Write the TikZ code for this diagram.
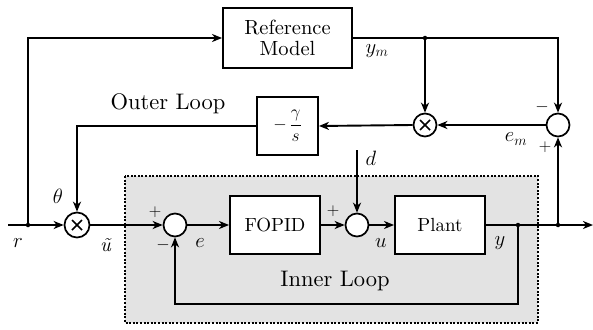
\documentclass[tikz,border=0pt]{standalone}
\usepackage{amsmath}
\usepackage{fontspec}
\setmainfont{lmroman10-regular}[Extension=.otf,ItalicFont=lmroman10-italic,BoldFont=lmroman10-bold]
\usetikzlibrary{arrows.meta}
\newcommand{\blkfont}{\fontsize{19}{21}\selectfont}
\newcommand{\reffont}{\fontsize{20.5}{22}\selectfont}
\begin{document}
\begin{tikzpicture}[x=1pt,y=-1pt,
  line width=1.9pt,
  >={Stealth[length=10pt,width=8pt,inset=3pt]},
  blk/.style={draw,rectangle,inner sep=0pt,align=center,font=\blkfont},
  sumc/.style={draw,circle,minimum size=23pt,inner sep=0pt,fill=white,line width=1.7pt},
  multc/.style={sumc,path picture={
    \draw[line width=1.7pt] ([shift={(-5pt,-5pt)}]path picture bounding box.center) -- ([shift={(5pt,5pt)}]path picture bounding box.center);
    \draw[line width=1.7pt] ([shift={(-5pt,5pt)}]path picture bounding box.center) -- ([shift={(5pt,-5pt)}]path picture bounding box.center);}},
  jdot/.style={circle,fill,inner sep=0pt,minimum size=4.5pt},
  lbl/.style={font=\fontsize{20}{23}\selectfont},
  sgn/.style={font=\fontsize{18}{21}\selectfont,inner sep=0pt},
  loopl/.style={font=\fontsize{22.5}{26}\selectfont}]
\useasboundingbox (0,0) rectangle (593,329);
% inner loop background
\draw[fill=black!11,line width=1.8pt,dash pattern=on 2pt off 1.6pt] (125,176) rectangle (538,323);
% blocks
\node[blk,minimum width=129pt,minimum height=60pt,font=\reffont] (refm) at (287.5,38) {\reffont Reference\\[-1pt]\reffont Model};
\node[blk,minimum width=61pt,minimum height=58pt] (gam) at (287.5,126) {$-\,\dfrac{\gamma}{s}$};
\node[blk,minimum width=90pt,minimum height=58pt,fill=white] (fopid) at (275,225) {FOPID};
\node[blk,minimum width=90pt,minimum height=58pt,fill=white] (plant) at (440,225) {Plant};
\node[multc] (m1) at (425,125) {};
\node[sumc] (sem) at (558,125) {};
\node[multc,minimum size=25pt] (m2) at (77,225) {};
\node[sumc] (s1) at (175,225) {};
\node[sumc] (s2) at (357,225) {};
% junctions and ends
\coordinate (start) at (8,225);
\node[jdot] (jr) at (28,225) {};
\node[jdot] (jym) at (425,38) {};
\node[jdot] (jy1) at (518,225) {};
\node[jdot] (jy2) at (558,225) {};
\coordinate (endp) at (593,225);
\coordinate (dst) at (357,150);
\coordinate (cem) at (558,38);
\coordinate (cg) at (77,126);
\coordinate (cfb) at (518,304);
% connectors
\draw[->] (start) -- (m2.west);
\draw[->] (jr.center) |- (refm.west);
\draw[->] (refm.east) -- (jym.center) -- (cem) -- (sem.north);
\draw[->] (jym.center) -- (m1.north);
\draw[->] (sem.west) -- (m1.east);
\draw[->] (m1.west) -- (gam.east);
\draw[->] (gam.west) -- (cg) -- (m2.north);
\draw[->] (m2.east) -- (s1.west);
\draw[->] (s1.east) -- (fopid.west);
\draw[->] (fopid.east) -- (s2.west);
\draw[->] (dst) -- (s2.north);
\draw[->] (s2.east) -- (plant.west);
\draw[->] (plant.east) -- (endp);
\draw[->] (jy2.center) -- (sem.south);
\draw[->] (jy1.center) -- (cfb) -| (s1.south);
% labels
\node[lbl] (lym) at (377,51) {$y_m$};
\node[lbl] (lem) at (516,139) {$e_m$};
\node[lbl] (lth) at (58,196) {$\theta$};
\node[lbl] (lr) at (18,243) {$r$};
\node[lbl,inner sep=0pt] (lut) at (106,245) {\textit{ũ}};
\node[lbl] (le) at (200,243) {$e$};
\node[lbl] (lu) at (381,243) {$u$};
\node[lbl] (ly) at (500,243) {$y$};
\node[lbl] (ld) at (371,158) {$d$};
\node[sgn] (p1) at (155,212) {$+$};
\node[sgn] (n1) at (163,245) {$-$};
\node[sgn] (p2) at (333,211) {$+$};
\node[sgn] (n3) at (542,107) {$-$};
\node[sgn] (p3) at (545,147) {$+$};
\node[loopl] (lo) at (168,104) {Outer Loop};
\node[loopl] (li) at (335,281) {Inner Loop};
\end{tikzpicture}
\end{document}
